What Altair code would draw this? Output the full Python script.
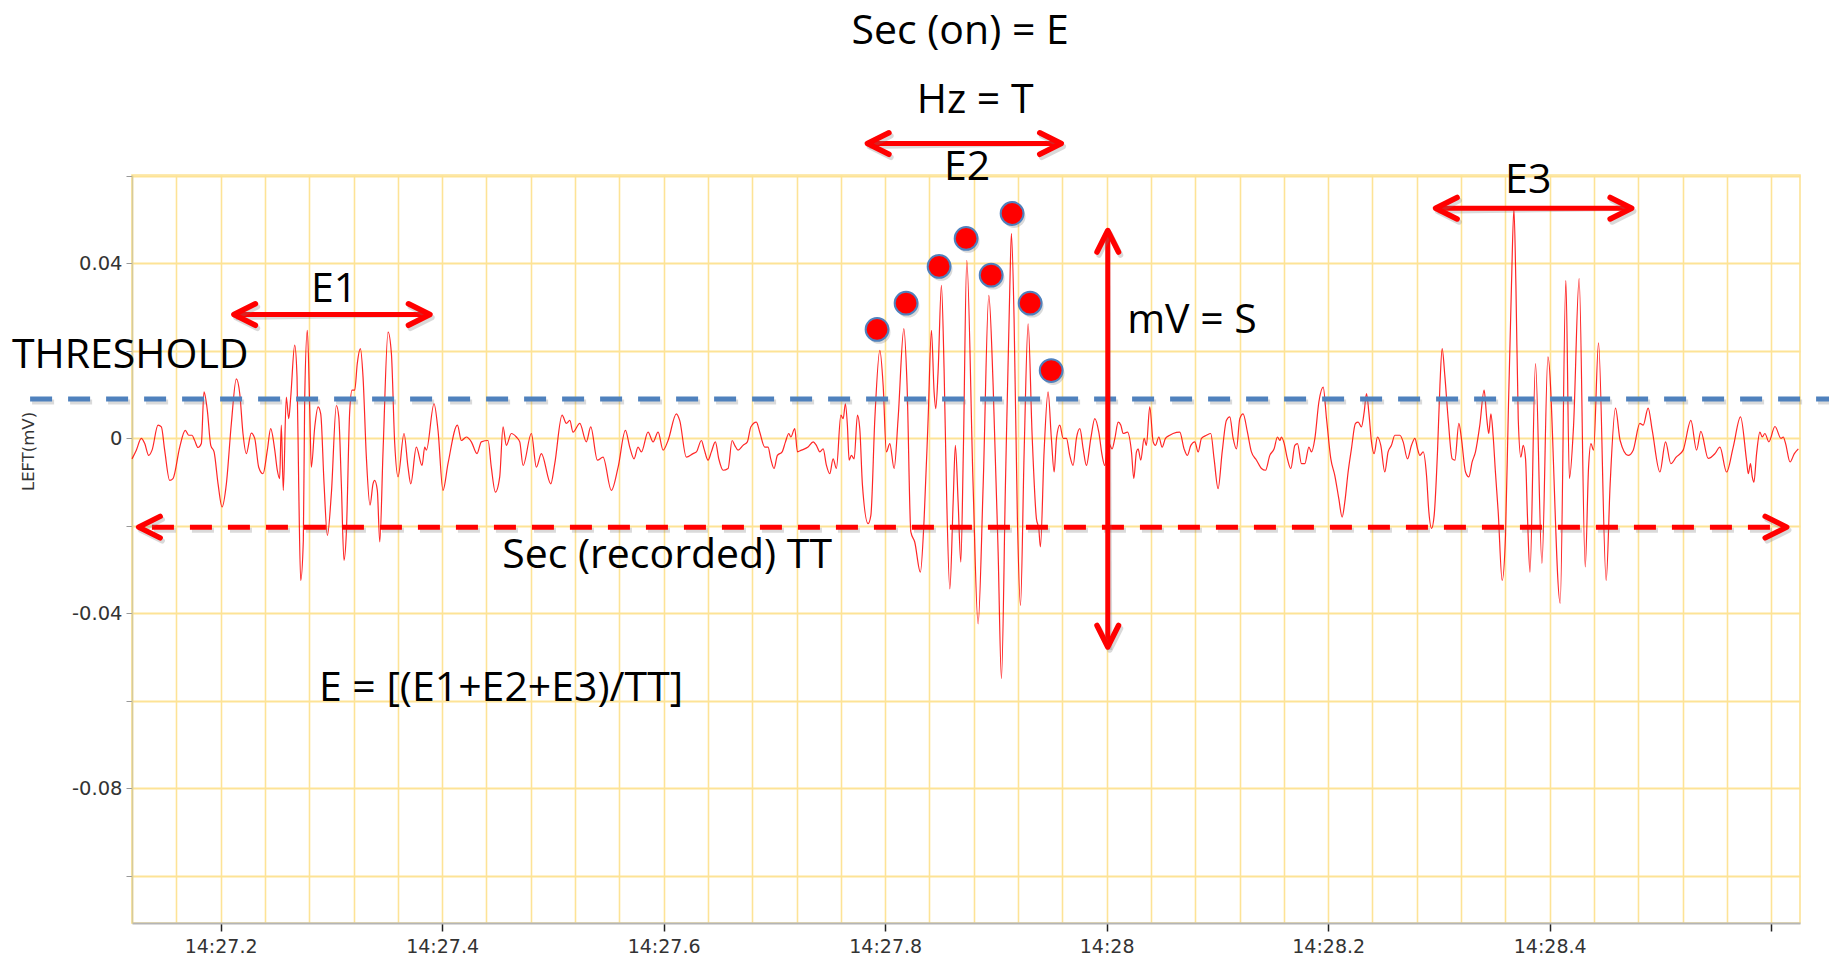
import altair as alt
import pandas as pd

# ---------------- signal (time in s after 14:00, LEFT in mV) ----------------
seg_e1 = [
    (27.1200, -0.0047), (27.1239, -0.0027), (27.1284, 0.0000), (27.1315, -0.0012), (27.1351, -0.0039),
    (27.1381, -0.0027), (27.1435, 0.0030), (27.1465, 0.0026), (27.1495, -0.0027), (27.1540, -0.0096),
    (27.1570, -0.0092), (27.1631, -0.0020), (27.1681, 0.0018), (27.1712, 0.0007), (27.1742, 0.0007),
    (27.1766, -0.0005), (27.1796, -0.0021), (27.1826, -0.0012), (27.1850, 0.0106), (27.1880, 0.0064),
    (27.1911, -0.0016), (27.1941, -0.0031), (27.1977, -0.0104), (27.2013, -0.0157), (27.2052, -0.0104),
    (27.2097, 0.0034), (27.2142, 0.0136), (27.2173, 0.0102), (27.2202, 0.0011), (27.2232, -0.0035),
    (27.2277, 0.0012), (27.2308, 0.0000), (27.2344, -0.0066), (27.2383, -0.0081), (27.2422, -0.0027),
    (27.2452, 0.0022), (27.2489, -0.0027), (27.2512, -0.0073), (27.2533, -0.0092), (27.2548, 0.0030),
    (27.2566, -0.0119), (27.2593, 0.0094), (27.2615, 0.0045), (27.2633, 0.0094), (27.2669, 0.0213),
    (27.2690, 0.0140), (27.2705, -0.0104), (27.2723, -0.0325), (27.2747, -0.0233), (27.2759, 0.0087),
    (27.2783, 0.0247), (27.2805, 0.0064), (27.2819, -0.0066), (27.2850, 0.0026), (27.2880, 0.0072),
    (27.2904, 0.0056), (27.2934, -0.0104), (27.2964, -0.0222), (27.3000, -0.0126), (27.3045, 0.0075),
    (27.3067, 0.0049), (27.3090, -0.0104), (27.3114, -0.0279), (27.3135, -0.0218), (27.3166, 0.0064),
    (27.3187, 0.0110), (27.3211, 0.0110), (27.3234, 0.0171), (27.3262, 0.0205), (27.3286, 0.0140),
    (27.3316, -0.0043), (27.3349, -0.0153), (27.3376, -0.0104), (27.3391, -0.0096), (27.3415, -0.0119),
    (27.3437, -0.0237), (27.3467, -0.0027), (27.3512, 0.0243), (27.3542, 0.0194), (27.3572, -0.0012),
    (27.3602, -0.0088), (27.3656, 0.0011), (27.3692, -0.0066), (27.3717, -0.0104),
]
seg_quiet = [
    (27.3767, -0.0020), (27.3819, -0.0062), (27.3843, -0.0020), (27.3858, -0.0027), (27.3927, 0.0079),
    (27.3963, 0.0018), (27.4008, -0.0119), (27.4053, -0.0058), (27.4138, 0.0030), (27.4174, -0.0005),
    (27.4219, 0.0003), (27.4264, -0.0008), (27.4315, -0.0035), (27.4354, -0.0008), (27.4415, -0.0005),
    (27.4444, -0.0066), (27.4481, -0.0123), (27.4520, -0.0088), (27.4550, 0.0026), (27.4580, -0.0016),
    (27.4625, 0.0011), (27.4670, 0.0003), (27.4701, -0.0008), (27.4731, -0.0062), (27.4806, 0.0011),
    (27.4851, -0.0066), (27.4896, -0.0035), (27.4981, -0.0104), (27.5017, -0.0058), (27.5083, 0.0053),
    (27.5122, 0.0034), (27.5153, 0.0041), (27.5182, 0.0014), (27.5243, 0.0034), (27.5302, -0.0008),
    (27.5342, 0.0026), (27.5402, -0.0050), (27.5453, -0.0043), (27.5528, -0.0119), (27.5589, -0.0066),
    (27.5655, 0.0018), (27.5694, -0.0020), (27.5733, -0.0047), (27.5769, -0.0020), (27.5799, -0.0031),
    (27.5859, 0.0014), (27.5905, -0.0008), (27.5950, 0.0014), (27.5995, -0.0027), (27.6040, -0.0005),
    (27.6115, 0.0056), (27.6145, 0.0041), (27.6205, -0.0043), (27.6266, -0.0035),
]
seg_e2_onset = [
    (27.6296, -0.0031), (27.6341, -0.0005), (27.6365, -0.0024), (27.6401, -0.0050), (27.6431, -0.0031),
    (27.6467, -0.0008), (27.6498, -0.0047), (27.6537, -0.0073), (27.6582, -0.0069), (27.6618, -0.0005),
    (27.6642, -0.0016), (27.6672, -0.0027), (27.6717, -0.0016), (27.6756, -0.0008), (27.6787, 0.0026),
    (27.6837, 0.0037), (27.6868, 0.0014), (27.6913, -0.0020), (27.6943, -0.0020), (27.6967, -0.0047),
    (27.6997, -0.0069), (27.7027, -0.0039), (27.7070, -0.0031), (27.7100, -0.0008), (27.7130, 0.0011),
    (27.7148, 0.0003), (27.7184, 0.0022), (27.7208, -0.0031), (27.7244, -0.0027), (27.7304, -0.0020),
    (27.7350, -0.0008), (27.7379, -0.0016), (27.7410, -0.0031), (27.7440, -0.0024), (27.7470, -0.0062),
    (27.7500, -0.0081), (27.7530, -0.0047), (27.7560, -0.0069), (27.7600, 0.0053), (27.7621, 0.0045),
    (27.7641, 0.0079), (27.7659, 0.0030), (27.7675, -0.0050), (27.7695, -0.0039), (27.7720, -0.0047),
    (27.7750, 0.0053), (27.7771, 0.0022), (27.7795, -0.0107), (27.7846, -0.0195), (27.7871, -0.0176),
    (27.7907, 0.0045), (27.7952, 0.0201), (27.7982, 0.0121), (27.8011, -0.0031), (27.8042, -0.0012),
    (27.8081, -0.0069), (27.8117, 0.0045), (27.8169, 0.0251), (27.8198, 0.0121), (27.8232, -0.0214),
    (27.8267, -0.0237), (27.8318, -0.0306), (27.8352, -0.0184), (27.8388, 0.0045), (27.8418, 0.0247),
    (27.8442, 0.0106), (27.8457, 0.0068), (27.8478, 0.0152), (27.8508, 0.0350), (27.8532, 0.0159),
    (27.8553, -0.0107), (27.8584, -0.0344), (27.8614, -0.0146), (27.8634, -0.0016), (27.8659, -0.0146),
    (27.8683, -0.0283), (27.8706, -0.0031), (27.8737, 0.0407),
]
seg_e2_tail = [
    (27.8794, -0.0107), (27.8839, -0.0424), (27.8885, -0.0107), (27.8936, 0.0327), (27.8975, 0.0121),
    (27.9020, -0.0260), (27.9050, -0.0549), (27.9086, -0.0107), (27.9126, 0.0350), (27.9140, 0.0468),
    (27.9164, 0.0274), (27.9194, -0.0184), (27.9222, -0.0382), (27.9255, -0.0031), (27.9291, 0.0262),
    (27.9327, 0.0007), (27.9366, -0.0184), (27.9387, -0.0206), (27.9402, -0.0248), (27.9435, -0.0031),
    (27.9471, 0.0106), (27.9501, -0.0001), (27.9526, -0.0077), (27.9547, 0.0000), (27.9577, 0.0030),
    (27.9607, 0.0000), (27.9637, 0.0000), (27.9667, -0.0039), (27.9697, -0.0062), (27.9727, 0.0000),
    (27.9758, 0.0022), (27.9788, -0.0024), (27.9817, -0.0062), (27.9857, 0.0000), (27.9893, 0.0045),
    (27.9929, 0.0014), (27.9959, -0.0039), (27.9983, -0.0062), (28.0013, -0.0008), (28.0049, -0.0024),
    (28.0074, 0.0000), (28.0104, 0.0037), (28.0128, 0.0030), (28.0149, 0.0011), (28.0188, 0.0014),
    (28.0224, -0.0031), (28.0245, -0.0092), (28.0269, -0.0031), (28.0284, -0.0024), (28.0308, -0.0050),
    (28.0338, 0.0000), (28.0359, -0.0016), (28.0389, 0.0072), (28.0420, -0.0008), (28.0441, -0.0016),
    (28.0471, 0.0003), (28.0501, -0.0020), (28.0531, 0.0000), (28.0570, 0.0007), (28.0600, 0.0011),
    (28.0660, 0.0014), (28.0699, -0.0024), (28.0729, -0.0039), (28.0760, -0.0016), (28.0796, -0.0008),
    (28.0826, -0.0031), (28.0856, 0.0000), (28.0901, 0.0007), (28.0940, 0.0011), (28.0970, -0.0047),
    (28.1006, -0.0115), (28.1043, -0.0031), (28.1081, 0.0041), (28.1112, 0.0049), (28.1142, 0.0000),
    (28.1172, -0.0024), (28.1202, 0.0045), (28.1232, 0.0056), (28.1271, 0.0014), (28.1307, -0.0031),
]
seg_pre_e3 = [
    (28.1353, -0.0050), (28.1398, -0.0069), (28.1434, -0.0073), (28.1473, -0.0039), (28.1512, -0.0024),
    (28.1542, 0.0003), (28.1564, -0.0005), (28.1578, 0.0003), (28.1603, -0.0012), (28.1632, -0.0047),
    (28.1663, -0.0069), (28.1699, -0.0016), (28.1723, -0.0012), (28.1759, -0.0058), (28.1789, -0.0058),
    (28.1826, -0.0020), (28.1849, -0.0031), (28.1880, 0.0000), (28.1916, 0.0083), (28.1955, 0.0117),
    (28.1985, 0.0045), (28.2024, -0.0047), (28.2060, -0.0085), (28.2096, -0.0138), (28.2126, -0.0180),
    (28.2150, -0.0146), (28.2180, -0.0077), (28.2210, -0.0024), (28.2246, 0.0034), (28.2271, 0.0037),
    (28.2300, 0.0026), (28.2325, 0.0060), (28.2346, 0.0102), (28.2367, 0.0060), (28.2391, -0.0008),
    (28.2415, -0.0035), (28.2445, 0.0003), (28.2475, -0.0016), (28.2511, -0.0077), (28.2541, -0.0031),
    (28.2571, -0.0016), (28.2602, 0.0007), (28.2647, 0.0007), (28.2677, -0.0008), (28.2716, -0.0047),
    (28.2752, -0.0016), (28.2783, 0.0000), (28.2807, -0.0024), (28.2828, -0.0039), (28.2858, -0.0031),
    (28.2888, -0.0085), (28.2909, -0.0168), (28.2933, -0.0206), (28.2957, -0.0176), (28.2987, -0.0031),
    (28.3009, 0.0121), (28.3029, 0.0205), (28.3053, 0.0144), (28.3083, 0.0045), (28.3120, -0.0047),
    (28.3144, -0.0050), (28.3180, 0.0034), (28.3203, 0.0000), (28.3240, -0.0077), (28.3270, -0.0088),
    (28.3300, -0.0054), (28.3330, -0.0031), (28.3369, 0.0030), (28.3408, 0.0110), (28.3432, 0.0045),
    (28.3450, 0.0011), (28.3469, 0.0056), (28.3489, 0.0007), (28.3510, -0.0077), (28.3535, -0.0168),
    (28.3571, -0.0325), (28.3601, -0.0222), (28.3625, 0.0045), (28.3655, 0.0350), (28.3677, 0.0525),
    (28.3695, 0.0350), (28.3716, 0.0045), (28.3740, -0.0043), (28.3761, -0.0016), (28.3782, -0.0047),
    (28.3800, -0.0184), (28.3822, -0.0306),
]
seg_e3_tail = [
    (28.3872, 0.0171), (28.3930, -0.0286), (28.3984, 0.0186), (28.4095, -0.0377), (28.4146, 0.0361),
    (28.4178, -0.0092), (28.4215, 0.0026), (28.4266, 0.0365), (28.4321, -0.0294), (28.4351, -0.0066),
    (28.4372, -0.0012), (28.4396, -0.0027), (28.4441, 0.0218), (28.4510, -0.0325), (28.4546, -0.0104),
    (28.4594, 0.0069), (28.4636, -0.0005), (28.4708, -0.0039), (28.4754, -0.0027), (28.4814, 0.0034),
    (28.4844, 0.0030), (28.4889, 0.0069), (28.4926, 0.0018), (28.4995, -0.0077), (28.5046, -0.0008),
    (28.5094, -0.0058), (28.5142, -0.0043), (28.5205, -0.0027), (28.5275, 0.0041), (28.5326, -0.0027),
    (28.5365, 0.0016), (28.5431, -0.0046), (28.5492, -0.0035), (28.5537, -0.0020), (28.5597, -0.0077),
    (28.5657, -0.0020), (28.5723, 0.0049), (28.5777, -0.0050), (28.5793, -0.0081), (28.5813, -0.0058),
    (28.5829, -0.0088), (28.5844, -0.0100), (28.5868, -0.0035), (28.5898, 0.0014), (28.5919, 0.0003),
    (28.5943, 0.0011), (28.5979, -0.0008), (28.6034, 0.0027), (28.6088, 0.0000), (28.6109, 0.0003),
    (28.6130, -0.0012), (28.6170, -0.0054), (28.6209, -0.0035), (28.6245, -0.0024),
]

# ---------------- E2 peak markers ----------------
peak_t = [27.7927, 27.8189, 27.8487, 27.8731, 27.8957, 27.9146, 27.9309, 27.9499]
peak_mv = [0.0249, 0.0309, 0.0393, 0.0457, 0.0373, 0.0514, 0.0309, 0.0155]

# ---------------- annotation arrows (solid) ----------------
arrow_t0 = [27.212, 27.784, 28.297, 28.001]
arrow_t1 = [27.389, 27.959, 28.474, 28.001]
arrow_v0 = [0.0283, 0.0674, 0.0526, -0.0477]
arrow_v1 = [0.0283, 0.0674, 0.0526, 0.0475]

# recorded-span dashed arrow and threshold line
tt_t0, tt_t1, tt_v = 27.126, 28.614, -0.0203
thr_t0, thr_t1, thr_v = 27.028, 28.66, 0.009

# ---------------- annotation texts ----------------
text_center = ["Sec (on) = E", "Hz = T", "E2", "E1", "E3", "Sec (recorded) TT", "E = [(E1+E2+E3)/TT]"]
text_center_t = [27.8677, 27.8812, 27.874, 27.3024, 28.3806, 27.6031, 27.4532]
text_center_v = [0.0936, 0.0779, 0.0626, 0.0347, 0.0594, -0.0263, -0.0567]
text_left = ["THRESHOLD", "mV = S"]
text_left_t = [27.0116, 28.0185]
text_left_v = [0.0194, 0.0274]

# ---------------- axes ----------------
x_grid = [round(27.12 + 0.04 * i, 2) for i in range(38)]
tick_times = [27.2, 27.4, 27.6, 27.8, 28.0, 28.2, 28.4, 28.6]
tick_labels = ["14:27.2", "14:27.4", "14:27.6", "14:27.8", "14:28", "14:28.2", "14:28.4", ""]
y_grid = [round(-0.10 + 0.02 * i, 2) for i in range(9)]
y_label_vals = [0.04, 0.0, -0.04, -0.08]
y_label_text = ["0.04", "0", "-0.04", "-0.08"]

x_dom = [27.12, 28.626]
y_dom = [-0.1108, 0.0602]

GRID = "#fde396"
RED = "#ff0000"
BLUE = "#4f81bd"
FONT = "Open Sans"

x_label_expr = "".join(f"abs(datum.value - {t}) < 0.001 ? '{l}' : " for t, l in zip(tick_times, tick_labels)) + "''"
y_label_expr = "".join(f"abs(datum.value - ({v})) < 0.001 ? '{l}' : " for v, l in zip(y_label_vals, y_label_text)) + "''"

xs = alt.Scale(domain=x_dom, nice=False, zero=False)
ys = alt.Scale(domain=y_dom, nice=False, zero=False)

x_axis = alt.Axis(values=x_grid, grid=True, gridColor=GRID, gridWidth=1.6, gridOpacity=1,
                  tickOpacity={"condition": {"test": "abs(datum.value*5 - round(datum.value*5)) < 0.001", "value": 1}, "value": 0},
                  tickColor="#222", tickSize=8, tickWidth=1.5,
                  labelExpr=x_label_expr, labelFont="DejaVu Sans", labelFontSize=19, labelColor="#333",
                  labelPadding=6, labelOverlap=False, labelFlush=False,
                  domainColor="#b5b5b5", domainWidth=2, title=None)
y_axis = alt.Axis(values=y_grid, grid=True, gridColor=GRID, gridWidth=2, gridOpacity=1,
                  tickColor="#999", tickSize=6, tickWidth=1,
                  labelExpr=y_label_expr, labelFont="DejaVu Sans", labelFontSize=19.5, labelColor="#333",
                  labelPadding=4, labelOverlap=False, labelFlush=False,
                  domainColor="#d6cb9c", domainWidth=1.5,
                  title="LEFT(mV)", titleFont="DejaVu Sans", titleFontSize=16.5, titleFontWeight="normal",
                  titleColor="#333", titleAngle=270, titleX=-104, titleY=276,
                  titleAlign="center", titleBaseline="middle")


def X(field):
    return alt.X(field, scale=xs, axis=x_axis)


def Y(field):
    return alt.Y(field, scale=ys, axis=y_axis)


trace = pd.DataFrame(seg_e1 + seg_quiet + seg_e2_onset + seg_e2_tail + seg_pre_e3 + seg_e3_tail,
                     columns=["t", "mv"])

line = alt.Chart(trace).mark_line(color=RED, strokeWidth=1.2, opacity=0.85, interpolate="monotone").encode(
    x=X("t:Q"), y=Y("mv:Q"), order="t:Q")

SHADOW = dict(color="#7a7a7a", opacity=0.28, xOffset=2, yOffset=3)

thr_df = pd.DataFrame({"t0": [thr_t0], "t1": [thr_t1], "v": [thr_v]})
thr_shadow = alt.Chart(thr_df).mark_rule(strokeWidth=5, strokeDash=[22, 16], **SHADOW).encode(
    x=X("t0:Q"), x2="t1:Q", y=Y("v:Q"))
thr = alt.Chart(thr_df).mark_rule(color=BLUE, strokeWidth=5, strokeDash=[22, 16]).encode(
    x=X("t0:Q"), x2="t1:Q", y=Y("v:Q"))

tt_df = pd.DataFrame({"t0": [tt_t0 + 0.012], "t1": [tt_t1 - 0.012], "v": [tt_v]})
tt_shadow = alt.Chart(tt_df).mark_rule(strokeWidth=5, strokeDash=[22, 16], **SHADOW).encode(
    x=X("t0:Q"), x2="t1:Q", y=Y("v:Q"))
tt = alt.Chart(tt_df).mark_rule(color=RED, strokeWidth=5, strokeDash=[22, 16]).encode(
    x=X("t0:Q"), x2="t1:Q", y=Y("v:Q"))

arr_df = pd.DataFrame({"t0": arrow_t0, "t1": arrow_t1, "v0": arrow_v0, "v1": arrow_v1})
arr_shadow = alt.Chart(arr_df).mark_rule(strokeWidth=5, **SHADOW).encode(
    x=X("t0:Q"), x2="t1:Q", y=Y("v0:Q"), y2="v1:Q")
arr = alt.Chart(arr_df).mark_rule(color=RED, strokeWidth=5).encode(
    x=X("t0:Q"), x2="t1:Q", y=Y("v0:Q"), y2="v1:Q")

PATH_L = "M1,-0.5L0,0L1,0.5"
PATH_R = "M-1,-0.5L0,0L-1,0.5"
PATH_U = "M-0.5,1L0,0L0.5,1"
PATH_D = "M-0.5,-1L0,0L0.5,-1"
chev_rows = []
for a0, a1, b0, b1 in zip(arrow_t0, arrow_t1, arrow_v0, arrow_v1):
    if b0 == b1:
        chev_rows += [(a0, b0, PATH_L), (a1, b1, PATH_R)]
    else:
        chev_rows += [(a0, b0, PATH_D), (a1, b1, PATH_U)]
chev_rows += [(tt_t0, tt_v, PATH_L), (tt_t1, tt_v, PATH_R)]
chev_df = pd.DataFrame(chev_rows, columns=["t", "v", "path"])
chev_shadow = alt.Chart(chev_df).mark_point(filled=False, size=1850, strokeWidth=5.5,
                                            strokeCap="round", strokeJoin="round", **SHADOW).encode(
    x=X("t:Q"), y=Y("v:Q"), shape=alt.Shape("path:N", scale=None))
chev = alt.Chart(chev_df).mark_point(filled=False, size=1850, strokeWidth=5.5, color=RED, opacity=1,
                                     strokeCap="round", strokeJoin="round").encode(
    x=X("t:Q"), y=Y("v:Q"), shape=alt.Shape("path:N", scale=None))

dots_df = pd.DataFrame({"t": peak_t, "mv": peak_mv})
dots_shadow = alt.Chart(dots_df).mark_circle(size=520, color="#7a7a7a", opacity=0.28, xOffset=2, yOffset=3).encode(
    x=X("t:Q"), y=Y("mv:Q"))
dots = alt.Chart(dots_df).mark_circle(size=520, color=RED, opacity=1, stroke=BLUE, strokeWidth=2).encode(
    x=X("t:Q"), y=Y("mv:Q"))

tc_df = pd.DataFrame({"label": text_center, "t": text_center_t, "v": text_center_v})
txt_c = alt.Chart(tc_df).mark_text(font=FONT, fontSize=41, align="center", baseline="middle", dy=3,
                                   color="black").encode(x=X("t:Q"), y=Y("v:Q"), text="label:N")
tl_df = pd.DataFrame({"label": text_left, "t": text_left_t, "v": text_left_v})
txt_l = alt.Chart(tl_df).mark_text(font=FONT, fontSize=41, align="left", baseline="middle", dy=3,
                                   color="black").encode(x=X("t:Q"), y=Y("v:Q"), text="label:N")

chart = alt.layer(
    line, thr_shadow, thr, tt_shadow, tt, arr_shadow, arr, chev_shadow, chev, dots_shadow, dots, txt_c, txt_l
).properties(
    width=1668, height=748,
    autosize=alt.AutoSizeParams(type="none"),
    padding={"left": 124, "top": 167, "right": 29, "bottom": 36},
    background="white",
).configure_view(stroke=GRID, strokeWidth=1.6)

chart.save("out.html", embed_options={"renderer": "svg", "actions": False})
